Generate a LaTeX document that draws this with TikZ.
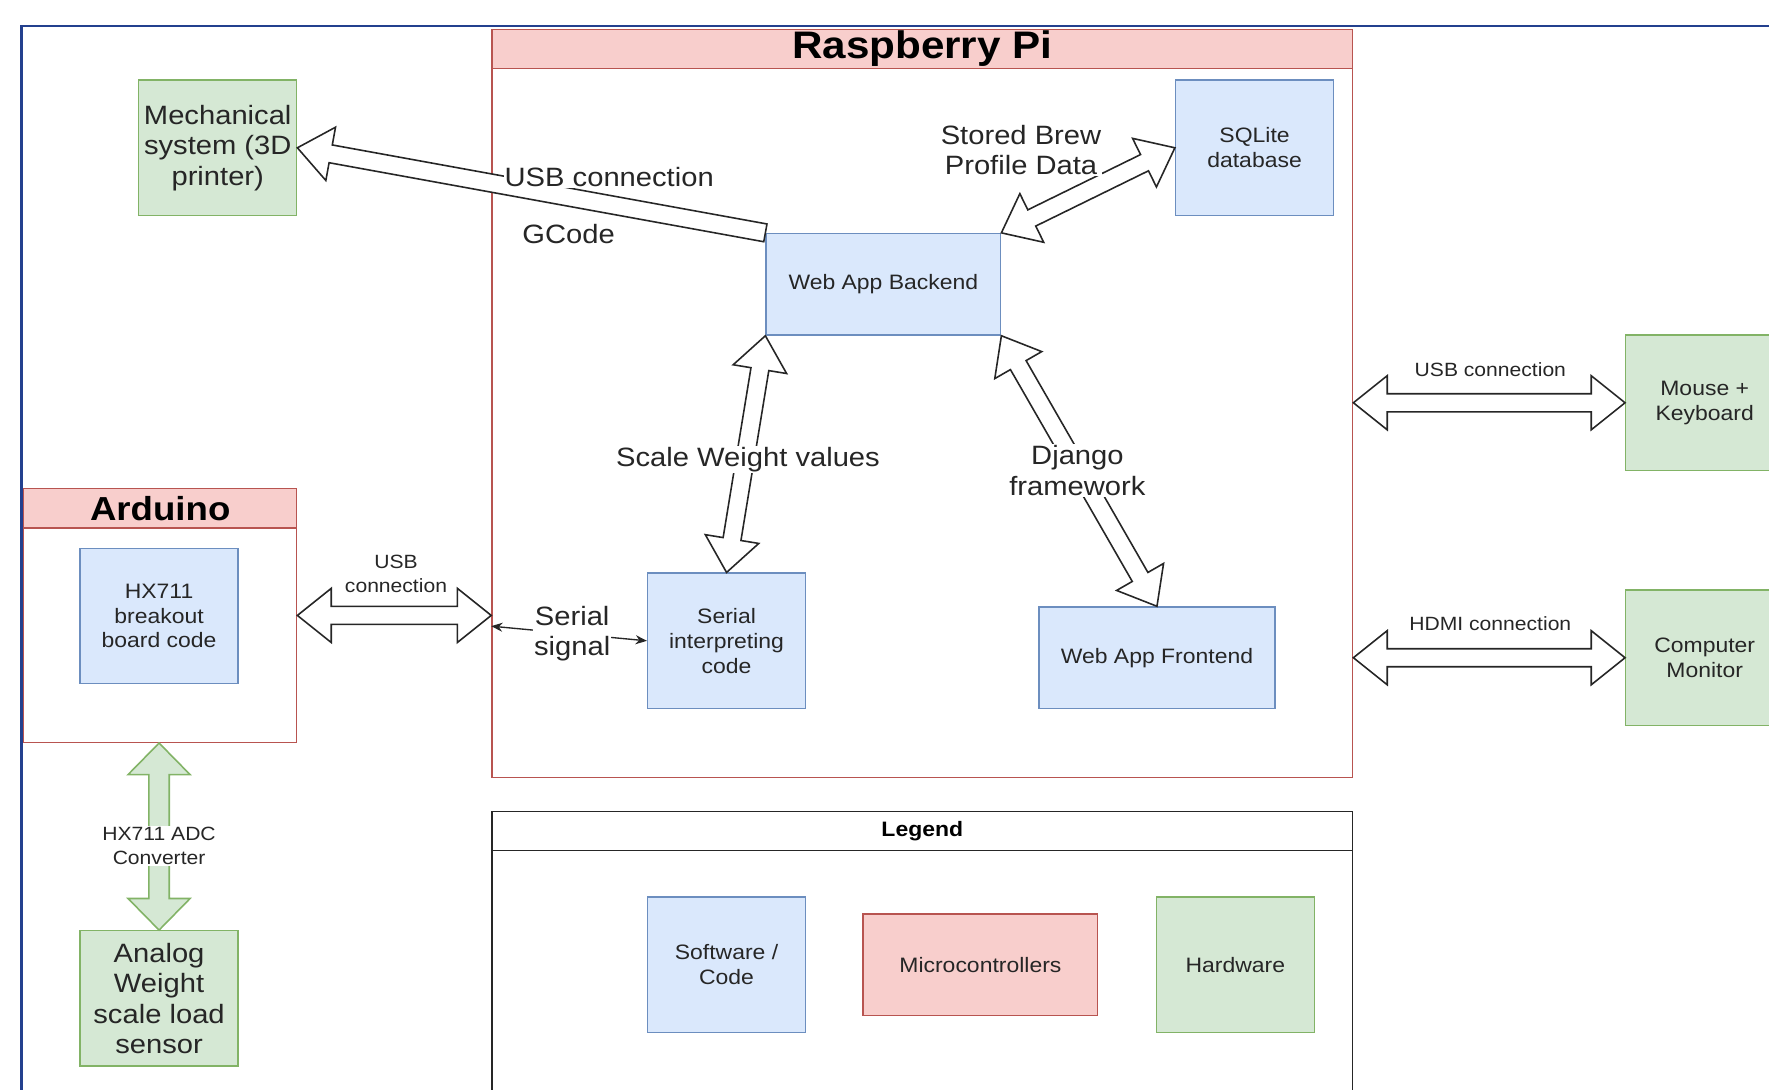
\documentclass[tikz,border=0pt]{standalone}
\usepackage{fontspec}
\setmainfont{Liberation Sans}[FakeStretch=1.1]
\usetikzlibrary{calc, arrows.meta}

\definecolor{swfill}{HTML}{DAE8FC}
\definecolor{swline}{HTML}{6C8EBF}
\definecolor{hwfill}{HTML}{D5E8D4}
\definecolor{hwline}{HTML}{82B366}
\definecolor{mcfill}{HTML}{F8CECC}
\definecolor{mcline}{HTML}{B85450}
\definecolor{framec}{HTML}{23408E}

\tikzset{box/.style={draw, line width=1.2pt, inner sep=0pt, align=center,
                     text=black!85, font=\fontsize{18.5}{22}\selectfont},
         sw/.style={box, draw=swline, fill=swfill, minimum width=140,
                    minimum height=120},
         hw/.style={sw, draw=hwline, fill=hwfill},
         mc/.style={sw, draw=mcline, fill=mcfill},
         big/.style={font=\fontsize{23.5}{27}\selectfont},
         group/.style={draw=mcline, line width=1.2pt, fill=white, inner sep=0pt},
         grouphead/.style={group, fill=mcfill, minimum height=35, text=black,
                           font=\bfseries\fontsize{34}{38}\selectfont},
         lbl/.style={fill=white, inner sep=1pt, align=center, text=black!85,
                     font=\fontsize{23.5}{27}\selectfont},
         slbl/.style={lbl, font=\fontsize{17}{21.5}\selectfont},
         sig/.style={black!85, line width=1.2pt,
                     {Stealth[length=10pt, width=8pt]}-{Stealth[length=10pt, width=8pt]}},
         fat/.style={draw=black!85, fill=white, line width=1.4pt},
         fatgreen/.style={draw=hwline, fill=hwfill, line width=1.4pt}}

\newcommand{\fathw}{24pt}
\newcommand{\fatbw}{8pt}
\newcommand{\fatlen}{30pt}

\newcommand{\fatone}[3][fat]{%
  \path #2 coordinate (fa) #3 coordinate (fb);
  \path ($(fb)!\fatlen!(fa)$) coordinate (fb1);
  \draw[#1] ($(fa)!\fatbw!90:(fb)$) -- ($(fb1)!\fatbw!90:(fb)$)
    -- ($(fb1)!\fathw!90:(fb)$) -- (fb) -- ($(fb1)!\fathw!-90:(fb)$)
    -- ($(fb1)!\fatbw!-90:(fb)$) -- ($(fa)!\fatbw!-90:(fb)$) -- cycle;}

\newcommand{\fatboth}[3][fat]{%
  \path #2 coordinate (fa) #3 coordinate (fb);
  \path ($(fa)!\fatlen!(fb)$) coordinate (fa1) ($(fb)!\fatlen!(fa)$) coordinate (fb1);
  \draw[#1] (fa) -- ($(fa1)!\fathw!90:(fa)$) -- ($(fa1)!\fatbw!90:(fa)$)
    -- ($(fb1)!\fatbw!-90:(fb)$) -- ($(fb1)!\fathw!-90:(fb)$) -- (fb)
    -- ($(fb1)!\fathw!90:(fb)$) -- ($(fb1)!\fatbw!90:(fb)$)
    -- ($(fa1)!\fatbw!-90:(fa)$) -- ($(fa1)!\fathw!-90:(fa)$) -- cycle;}

\begin{document}
\begin{tikzpicture}[x=1pt, y=-1pt]
      \useasboundingbox (0, 0) rectangle (1568, 966);
      \clip (0, 0) rectangle (1568, 966);
      \draw[framec, line width=2pt] (19, 23) rectangle (1640, 1040);

      \draw node[group, minimum width=763, minimum height=663] (rpi) at (817.5, 357.5) {};
      \draw node[grouphead, minimum width=763] (rpih) at (817.5, 43.5) {Raspberry Pi};
      \draw node[group, minimum width=242, minimum height=225] (ard) at (142, 545.5) {};
      \draw node[grouphead, minimum width=242,
                 font=\bfseries\fontsize{29.5}{33}\selectfont] (ardh) at (142, 450.5) {Arduino};
      \draw node[group, draw=black!85, minimum width=763, minimum height=300] (leg) at (817.5, 869) {};
      \draw node[group, draw=black!85, minimum width=763, minimum height=35, text=black,
                 font=\bfseries\fontsize{18.5}{22}\selectfont] (legh) at (817.5, 736.5) {Legend};

      \draw node[hw, big] (mech) at (193, 131) {Mechanical\\system (3D\\printer)};
      \draw node[sw] (db) at (1112, 131) {SQLite\\database};
      \draw node[sw, minimum width=208, minimum height=90] (be) at (783, 252) {Web App Backend};
      \draw node[sw] (ser) at (644, 568) {Serial\\interpreting\\code};
      \draw node[sw, minimum width=209, minimum height=90] (fe) at (1025.5, 583) {Web App Frontend};
      \draw node[hw] (mk) at (1511, 357) {Mouse +\\Keyboard};
      \draw node[hw] (mon) at (1511, 583) {Computer\\Monitor};
      \draw node[sw] (hx) at (141, 546) {HX711\\breakout\\board code};
      \draw node[hw, big] (load) at (141, 885) {Analog\\Weight\\scale load\\sensor};
      \draw node[sw] (kcode) at (644, 855) {Software /\\Code};
      \draw node[mc, minimum width=208, minimum height=90] (kmc) at (869, 855) {Microcontrollers};
      \draw node[hw] (khw) at (1095, 855) {Hardware};

      \fatone{(be.north west)}{(mech.east)}
      \fatboth{(be.north east)}{(db.west)}
      \fatboth{(be.south west)}{(ser.north)}
      \fatboth{(be.south east)}{(fe.north)}
      \fatboth{(ard.east)}{(rpi.west |- ard.east)}
      \fatboth{(rpi.east |- mk.west)}{(mk.west)}
      \fatboth{(rpi.east |- mon.west)}{(mon.west)}
      \begin{scope}
        \renewcommand{\fathw}{27.5pt}\renewcommand{\fatbw}{9pt}\renewcommand{\fatlen}{28pt}
        \fatboth[fatgreen]{(load.north |- ard.south)}{(load.north)}
      \end{scope}

      \coordinate (pin) at (rpi.west |- 0,555);
      \draw[sig] (pin) -- (ser.west) node[lbl, pos=0.52] (sigl) {Serial\\signal};

      \node[lbl] (usbl) at (540, 157) {USB connection};
      \node[lbl, fill=none] (gcl) at (504, 207) {GCode};
      \node[lbl] (brewl) at (905, 133) {Stored Brew\\Profile Data};
      \node[lbl] (scl) at (663, 407) {Scale Weight values};
      \node[lbl] (djl) at (955, 417) {Django\\framework};
      \node[slbl, fill=none] (ardl) at (351, 509) {USB\\connection};
      \node[slbl, fill=none] (mkl) at (1321, 328) {USB connection};
      \node[slbl, fill=none] (monl) at (1321, 553) {HDMI connection};
      \node[slbl] (adcl) at (141, 750) {HX711 ADC\\Converter};
    \end{tikzpicture}
\end{document}
